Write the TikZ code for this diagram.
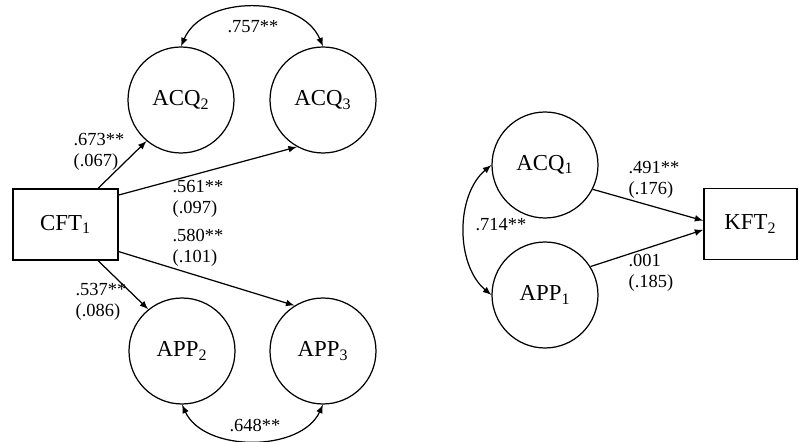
\documentclass[tikz,border=0pt]{standalone}
\usepackage{fontspec}
\setmainfont{Liberation Serif}
\begin{document}
\begin{tikzpicture}[>=latex, x=0.02cm, y=-0.02cm, line width=0.7pt,
  latent/.style={draw, circle, minimum size=2.12cm, inner sep=0pt, font=\fontsize{13}{15}\selectfont},
  observed/.style={draw, rectangle, minimum height=1.42cm, inner sep=0pt, font=\fontsize{13}{15}\selectfont},
  coef/.style={font=\fontsize{10.5}{12}\selectfont, align=left, anchor=west, inner sep=0pt}]
\useasboundingbox (0,0) rectangle (799,442);
% modelo cruzado
\node[observed, minimum width=2.1cm] (cft1) at (65.5,224.5) {CFT\textsubscript{1}};
\node[latent] (acq2) at (181,100) {ACQ\textsubscript{2}};
\node[latent] (acq3) at (323,100) {ACQ\textsubscript{3}};
\node[latent] (app2) at (182,351) {APP\textsubscript{2}};
\node[latent] (app3) at (323,351) {APP\textsubscript{3}};
\draw[->] (cft1.48) -- (acq2.230);
\draw[->] (cft1.29) -- (acq3.241);
\draw[->] (cft1.-48) -- (app2.129);
\draw[->] (cft1.-27) -- (app3.122);
\draw[<->] (acq2.north) .. controls +(22,-52) and +(-22,-52) .. (acq3.north);
\draw[<->] (app2.south) .. controls +(22,48) and +(-22,48) .. (app3.south);
\node[coef] (b673) at (73,152) {.673**\\(.067)};
\node[coef] (b561) at (172,199) {.561**\\(.097)};
\node[coef] (b580) at (172,248) {.580**\\(.101)};
\node[coef] (b537) at (75,302) {.537**\\(.086)};
\node[coef, anchor=center] (r757) at (253,27) {.757**};
\node[coef, anchor=center] (r648) at (255,425) {.648**};
% modelo KFT
\node[latent] (acq1) at (545,165) {ACQ\textsubscript{1}};
\node[latent] (app1) at (545,295) {APP\textsubscript{1}};
\node[observed, minimum width=1.86cm] (kft2) at (750.5,224) {KFT\textsubscript{2}};
\draw[->] (acq1.-27) -- (kft2.176);
\draw[->] (app1.32) -- (kft2.-173);
\draw[<->] (acq1.west) .. controls +(-36,30) and +(-36,-30) .. (app1.west);
\node[coef] (b491) at (628,180) {.491**\\(.176)};
\node[coef] (b001) at (628,273) {.001\\(.185)};
\node[coef] (r714) at (475,225) {.714**};
\end{tikzpicture}
\end{document}
